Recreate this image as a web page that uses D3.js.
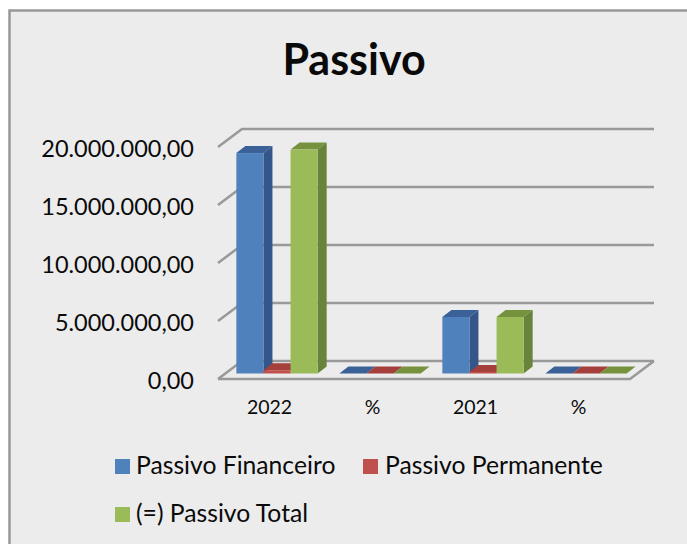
<!DOCTYPE html>
<html>
<head>
<meta charset="utf-8">
<script src="https://cdn.jsdelivr.net/npm/d3@7"></script>
<style>
body { margin: 0; background: #fff; }
text { font-family: Lato, "Open Sans", sans-serif; fill: #0a0a0a; }
</style>
</head>
<body>
<svg id="chart" width="687" height="544" style="display:block"></svg>
<script>
const categories = ["2022", "%", "2021", "%"];
const seriesNames = ["Passivo Financeiro", "Passivo Permanente", "(=) Passivo Total"];
const financeiro = [19000000, 0, 4870000, 0];
const permanente = [280000, 0, 140000, 0];
const total = [19300000, 0, 4870000, 0];
const yTicks = [0, 5000000, 10000000, 15000000, 20000000];
const front = ["#4f81bd", "#c0504d", "#9bbb59"];
const side = ["#34568a", "#8c3836", "#68843a"];
const topc = ["#3a6299", "#a53f3c", "#76923f"];
const allSeries = [financeiro, permanente, total];

const svg = d3.select("#chart");

// chart area, only the top and left borders are inside the picture
svg.append("rect").attr("x", 9).attr("y", 10).attr("width", 678).attr("height", 534)
    .attr("fill", "#ececec");
svg.append("path").attr("fill", "none").attr("stroke", "#989898").attr("stroke-width", 2.5)
    .attr("d", d3.line()([[9.5, 544], [9.5, 10.5], [687, 10.5]]));

svg.append("text").attr("x", 354).attr("y", 75).attr("text-anchor", "middle")
    .style("font-size", "43px").style("font-weight", "bold").text("Passivo");

const wallDx = 24, wallDy = -18, barDx = 9, barDy = -7;
const floorY = 379, floorLeft = 218, floorRight = 630;

const y = d3.scaleLinear().domain([0, 20000000]).range([floorY, floorY - 232]);
const x = d3.scaleBand().domain(d3.range(categories.length)).range([floorLeft, floorRight]);
const inner = d3.scaleBand().domain(d3.range(seriesNames.length))
    .range([0, x.bandwidth()]).paddingOuter(0.4).paddingInner(0);

// gridlines on the back wall, with the stub on the side wall
const grid = svg.append("g").attr("fill", "none").attr("stroke", "#999").attr("stroke-width", 2.5);
yTicks.forEach(t => {
    grid.append("path").attr("d", d3.line()([
        [floorLeft, y(t)],
        [floorLeft + wallDx, y(t) + wallDy],
        [floorRight + wallDx, y(t) + wallDy]
    ]));
});
// floor
grid.append("path").attr("d", d3.line()([
    [floorLeft, floorY],
    [floorRight, floorY],
    [floorRight + wallDx, floorY + wallDy]
]));

// axes
const yAxis = d3.axisLeft(y).tickValues(yTicks).tickSize(0)
    .tickFormat(d => d3.format(",.2f")(d).replace(/,/g, "#").replace(".", ",").replace(/#/g, "."));
const gy = svg.append("g").attr("transform", "translate(197,1.5)").call(yAxis);
gy.select(".domain").remove();
gy.selectAll("text").style("font-size", "23.5px").attr("font-family", null);

const xAxis = d3.axisBottom(x).tickSize(0).tickFormat(i => categories[i]);
const gx = svg.append("g").attr("transform", "translate(0,397)").call(xAxis);
gx.select(".domain").remove();
gx.selectAll("text").style("font-size", "19.5px").attr("font-family", null);

// bars: left to right so the sides overlap correctly
const baseY = floorY - 5.5;
const bars = svg.append("g");
categories.forEach((c, i) => {
    allSeries.forEach((s, k) => {
        const x0 = x(i) + inner(k) + 7.5, x1 = x0 + inner.bandwidth();
        const h = floorY - y(s[i]);
        const top = baseY - h;
        bars.append("path").attr("fill", topc[k]).attr("d", d3.line()([
            [x0, top], [x0 + barDx, top + barDy], [x1 + barDx, top + barDy], [x1, top]
        ]));
        bars.append("path").attr("fill", side[k]).attr("d", d3.line()([
            [x1, top], [x1 + barDx, top + barDy], [x1 + barDx, baseY + barDy], [x1, baseY]
        ]));
        bars.append("rect").attr("x", x0).attr("y", top).attr("width", x1 - x0).attr("height", h)
            .attr("fill", front[k]);
    });
});

// legend
const legendPos = [[115, 466.5], [363, 466.5], [115, 514.5]];
const legend = svg.append("g");
seriesNames.forEach((name, k) => {
    legend.append("rect").attr("x", legendPos[k][0]).attr("y", legendPos[k][1] - 7.5)
        .attr("width", 15).attr("height", 15).attr("fill", front[k]);
    legend.append("text").attr("x", legendPos[k][0] + (k == 1 ? 22 : 21)).attr("y", legendPos[k][1] + 7)
        .style("font-size", "24.7px").text(name);
});
</script>
</body>
</html>
